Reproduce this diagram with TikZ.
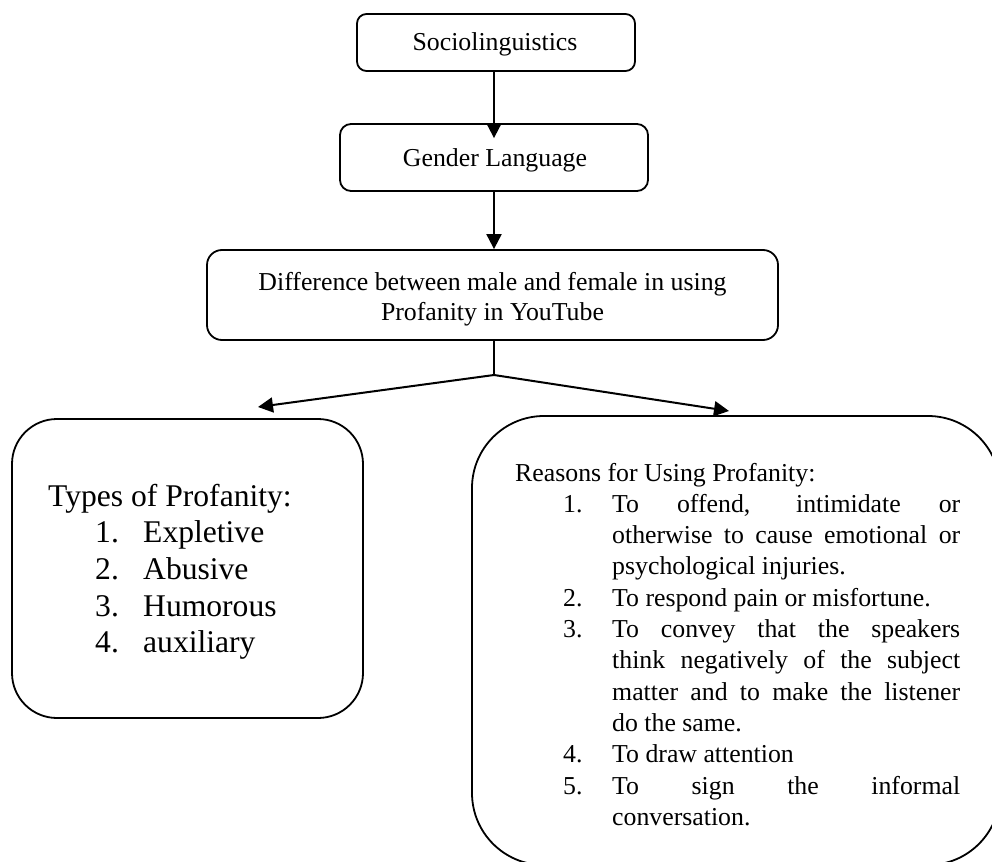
\documentclass[tikz,border=0pt]{standalone}
\usepackage{fontspec}
\setmainfont{Liberation Serif}
\usetikzlibrary{arrows.meta}
\begin{document}
\begin{tikzpicture}[x=1pt,y=-1pt,
  box/.style={draw, line width=1.8pt, rectangle, inner sep=0pt},
  arr/.style={line width=2pt, -{Triangle[length=15pt,width=15pt]}},
  stub/.style={line width=1.3pt},
  txt/.style={font=\fontsize{25.8}{31.3}\selectfont, inner sep=0pt},
  bigtxt/.style={font=\fontsize{31.6}{36.7}\selectfont, inner sep=0pt}]
\useasboundingbox (0,0) rectangle (992,861);
\clip (0,0) rectangle (992,861);

% boxes
\node[box, rounded corners=9.5pt, minimum width=278pt, minimum height=57pt] (soc) at (496,42.5) {};
\node[box, rounded corners=11pt, minimum width=308pt, minimum height=67pt] (gen) at (494,157.5) {};
\node[box, rounded corners=15pt, minimum width=571pt, minimum height=90pt] (diff) at (492.5,295) {};
\node[box, rounded corners=45pt, minimum width=351pt, minimum height=299pt] (types) at (187.5,568.5) {};
\node[box, rounded corners=72pt, minimum width=528pt, minimum height=449pt] (reasons) at (736,640.5) {};

% texts
\node[txt, anchor=base] (soctext) at (495,51) {Sociolinguistics};
\node[txt, anchor=base] (gentext) at (495,167) {Gender Language};
\node[txt, anchor=base] (difftext1) at (492.5,290) {Difference between male and female in using};
\node[txt, anchor=base] (difftext2) at (492.5,320) {Profanity in YouTube};

\node[bigtxt, anchor=base west] (typestext) at (48,506) {\begin{minipage}[t]{340pt}
Types of Profanity:\\
\hspace*{47pt}\makebox[48pt][l]{1.}Expletive\\
\hspace*{47pt}\makebox[48pt][l]{2.}Abusive\\
\hspace*{47pt}\makebox[48pt][l]{3.}Humorous\\
\hspace*{47pt}\makebox[48pt][l]{4.}auxiliary
\end{minipage}};

\node[txt, anchor=base west] (reasonstext) at (515,481) {\begin{minipage}[t]{460pt}
Reasons for Using Profanity:\\
\hspace*{48pt}\makebox[49pt][l]{1.}\makebox[348pt][s]{To offend, intimidate or}\\
\hspace*{97pt}\makebox[348pt][s]{otherwise to cause emotional or}\\
\hspace*{97pt}psychological injuries.\\
\hspace*{48pt}\makebox[49pt][l]{2.}To respond pain or misfortune.\\
\hspace*{48pt}\makebox[49pt][l]{3.}\makebox[348pt][s]{To convey that the speakers}\\
\hspace*{97pt}\makebox[348pt][s]{think negatively of the subject}\\
\hspace*{97pt}\makebox[348pt][s]{matter and to make the listener}\\
\hspace*{97pt}do the same.\\
\hspace*{48pt}\makebox[49pt][l]{4.}To draw attention\\
\hspace*{48pt}\makebox[49pt][l]{5.}\makebox[348pt][s]{To sign the informal}\\
\hspace*{97pt}conversation.
\end{minipage}};

% connectors
\coordinate (split) at (494,375);
\coordinate (ltip) at (258,407);
\coordinate (rtip) at (729,411);
\draw[arr] (soc.south -| gen.north) -- ([yshift=-15pt]gen.north);
\draw[arr] (gen.south) -- (gen.south |- diff.north);
\draw[stub] (split |- diff.south) -- (split);
\draw[arr] (split) -- (ltip);
\draw[arr] (split) -- (rtip);
\end{tikzpicture}
\end{document}
